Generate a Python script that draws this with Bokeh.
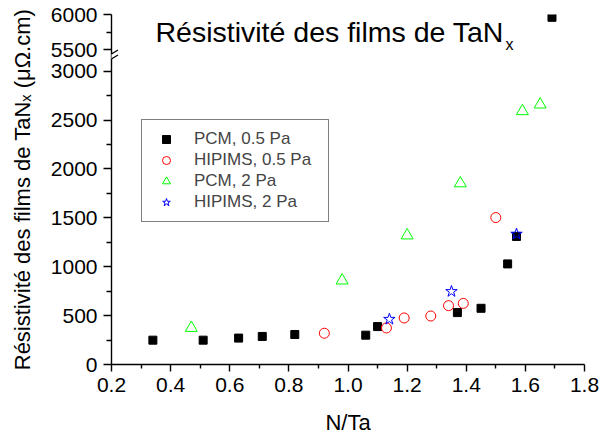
from bokeh.plotting import figure
from bokeh.models import (Range1d, FixedTicker, Label, Legend, LegendItem, Arrow,
                          PolyAnnotation, NumeralTickFormatter)
from bokeh.embed import file_html
from bokeh.resources import INLINE

# ---------------- data ----------------
pcm05_x = [0.34, 0.51, 0.63, 0.71, 0.82, 1.06, 1.10, 1.37, 1.45, 1.54, 1.57, 1.69]
pcm05_y = [249, 249, 270, 287, 307, 300, 388, 531, 575, 1029, 1310, 5960]
hip05_x = [0.92, 1.13, 1.19, 1.28, 1.34, 1.39, 1.50]
hip05_y = [320, 374, 476, 496, 602, 625, 1503]
pcm2_x = [0.47, 0.98, 1.20, 1.38, 1.59, 1.65]
pcm2_y = [374, 859, 1320, 1853, 2591, 2659]
hip2_x = [1.14, 1.35, 1.57]
hip2_y = [463, 747, 1334]

series_labels = ["PCM, 0.5 Pa", "HIPIMS, 0.5 Pa", "PCM, 2 Pa", "HIPIMS, 2 Pa"]

x_ticks = [0.2, 0.4, 0.6, 0.8, 1.0, 1.2, 1.4, 1.6, 1.8]
x_minor = [0.3, 0.5, 0.7, 0.9, 1.1, 1.3, 1.5, 1.7]
y_ticks = [0, 500, 1000, 1500, 2000, 2500, 3000, 5500, 6000]
y_minor = [250, 750, 1250, 1750, 2250, 2750, 5750]

# ---------------- broken y scale ----------------
LOW_MAX = 3000
UP_MIN = 5500
UP_START = 3220      # display position of 5500
UP_SCALE = 0.72      # display units per data unit in upper segment


def brk(v):
    if v <= LOW_MAX:
        return v
    return UP_START + (v - UP_MIN) * UP_SCALE


FONT = "Liberation Sans"

p = figure(width=600, height=437, output_backend="svg", toolbar_location=None,
           title=None, x_range=Range1d(0.2, 1.8), y_range=Range1d(0, brk(6000)),
           min_border_left=111, min_border_right=16, min_border_top=14,
           min_border_bottom=71)
p.outline_line_color = None
p.xgrid.visible = False
p.ygrid.visible = False
p.background_fill_color = "white"
p.border_fill_color = "white"

# axes
p.xaxis.ticker = FixedTicker(ticks=x_ticks, minor_ticks=x_minor)
p.xaxis.formatter = NumeralTickFormatter(format="0.0")
p.yaxis.ticker = FixedTicker(ticks=[brk(v) for v in y_ticks],
                             minor_ticks=[brk(v) for v in y_minor])
p.yaxis.major_label_overrides = {int(round(brk(v))): str(v) for v in y_ticks}

for ax in (p.xaxis[0], p.yaxis[0]):
    ax.axis_line_color = "black"
    ax.axis_line_width = 1.4
    ax.major_tick_line_color = "black"
    ax.minor_tick_line_color = "black"
    ax.major_tick_line_width = 1.4
    ax.minor_tick_line_width = 1.4
    ax.major_tick_in = 0
    ax.minor_tick_in = 0
    ax.major_label_text_font = FONT
    ax.major_label_text_font_size = "21px"
    ax.major_label_text_color = "black"
    ax.axis_label_text_font = FONT
    ax.axis_label_text_font_size = "22px"
    ax.axis_label_text_font_style = "normal"
    ax.axis_label_text_color = "black"

p.xaxis.major_tick_out = 7
p.xaxis.minor_tick_out = 4
p.xaxis.major_label_standoff = 6
p.xaxis.axis_label = "N/Ta"
p.xaxis.axis_label_standoff = 15
p.yaxis.major_tick_out = 8
p.yaxis.minor_tick_out = 5
p.yaxis.major_label_standoff = 6
p.yaxis.axis_label = "Résistivité des films de TaNₓ (μΩ.cm)"
p.yaxis.axis_label_standoff = 13

# data
r1 = p.scatter(pcm05_x, [brk(v) for v in pcm05_y], marker="square",
               size=8, fill_color="black", line_color="black")
r2 = p.scatter(hip05_x, [brk(v) for v in hip05_y], marker="circle", size=10,
               fill_color=None, line_color="#ff0000", line_width=1)
r3 = p.scatter(pcm2_x, [brk(v) for v in pcm2_y], marker="triangle", size=12,
               fill_color=None, line_color="#00ff00", line_width=1)
r4 = p.scatter(hip2_x, [brk(v) for v in hip2_y], marker="star", size=12,
               fill_color=None, line_color="#0000ff", line_width=1)

legend = Legend(items=[LegendItem(label=l, renderers=[r]) for l, r in
                       zip(series_labels, [r1, r2, r3, r4])],
                location=(30, 142), border_line_color="black", border_line_width=1,
                background_fill_color="white", background_fill_alpha=1,
                label_text_font=FONT, label_text_font_size="17px",
                glyph_width=30, glyph_height=20, label_height=20, label_width=125,
                label_standoff=13, padding=9, spacing=1, margin=0)
p.add_layout(legend)

# axis break marks
bx0, bx1 = 0.178, 0.222
p.add_layout(PolyAnnotation(xs=[bx0, bx1, bx1, bx0], ys=[3086, 3166, 3216, 3136],
                            fill_color="white", fill_alpha=1, line_color=None))
p.add_layout(Arrow(end=None, x_start=bx0, y_start=3086, x_end=bx1, y_end=3166,
                   line_color="black", line_width=1.2))
p.add_layout(Arrow(end=None, x_start=bx0, y_start=3136, x_end=bx1, y_end=3216,
                   line_color="black", line_width=1.2))

# title with subscript
p.add_layout(Label(x=44, y=333, x_units="screen", y_units="screen",
                   text="Résistivité des films de TaN", text_font=FONT,
                   text_font_size="28.5px", text_color="black",
                   text_baseline="alphabetic"))
p.add_layout(Label(x=394, y=320, x_units="screen", y_units="screen",
                   text="x", text_font=FONT, text_font_size="16px",
                   text_color="black", text_baseline="alphabetic"))

open("out.html", "w").write(file_html(p, INLINE))
